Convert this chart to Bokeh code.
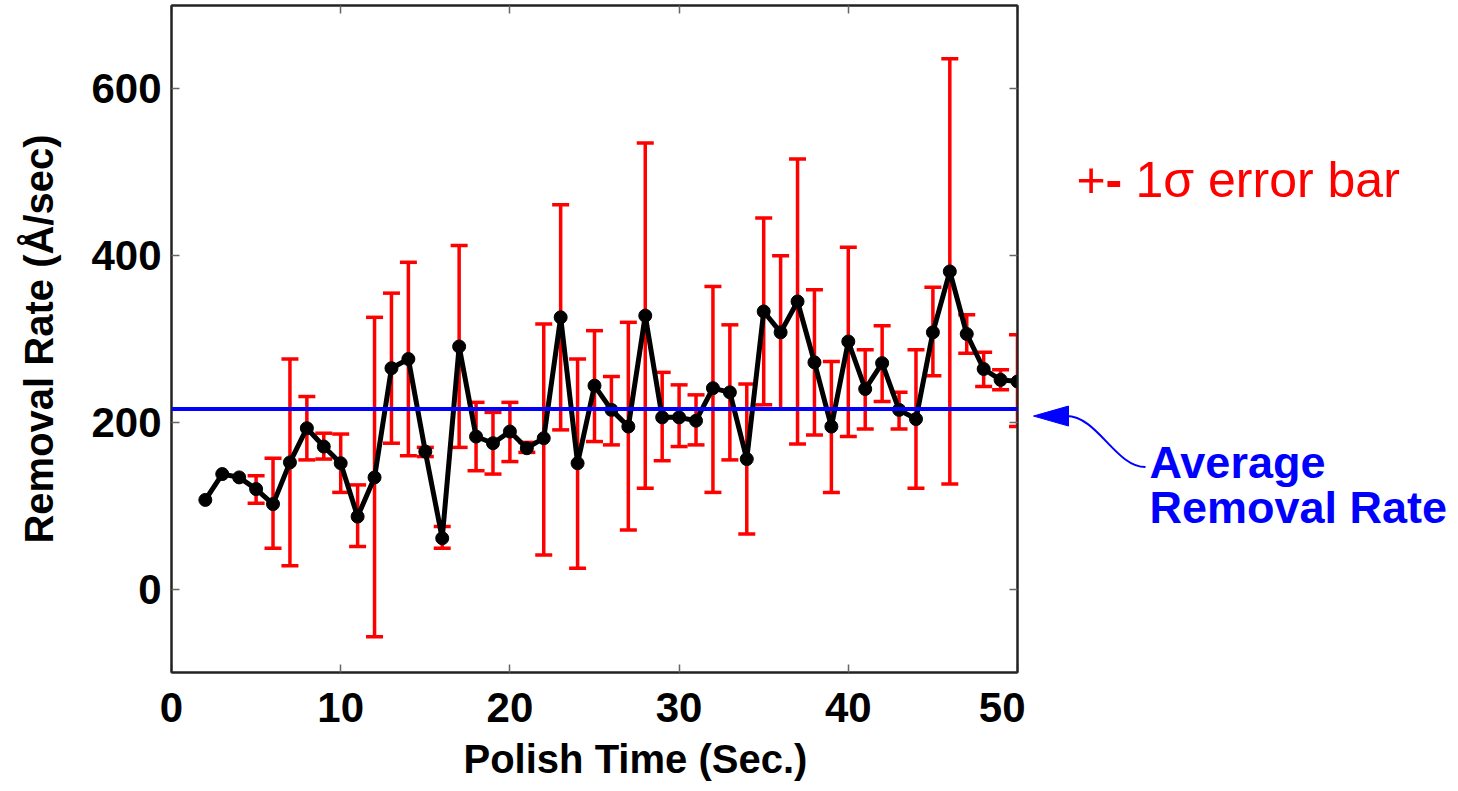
from bokeh.plotting import figure
from bokeh.models import (ColumnDataSource, Whisker, TeeHead, Span, Range1d, LinearAxis,
                          FixedTicker, Title)
from bokeh.layouts import row
from bokeh.core.properties import value
from bokeh.embed import file_html
from bokeh.resources import INLINE

# ---------------- data ----------------
time_s = list(range(2, 51))
removal_rate = [107, 138, 134, 120, 102, 152, 193, 171, 151, 87, 134, 265, 276, 165, 61,
                291, 183, 175, 189, 169, 181, 326, 151, 244, 215, 195, 328, 206, 206, 202,
                241, 236, 156, 333, 308, 345, 272, 195, 297, 240, 271, 215, 204, 308, 381,
                306, 264, 251, 249]
err_upper = [None, None, None, 136, 157, 276, 231, 187, 186, 125, 326, 355, 392, 170, 75,
             412, 224, 212, 224, 176, 318, 461, 276, 310, 255, 320, 535, 260, 245, 233,
             363, 317, 246, 445, 400, 516, 359, 273, 410, 287, 316, 236, 287, 362, 636,
             329, 284, 263, 305]
err_lower = [None, None, None, 103, 49, 28, 155, 156, 116, 51, -57, 175, 160, 159, 49,
             170, 142, 138, 153, 164, 41, 191, 25, 177, 173, 71, 121, 154, 171, 173,
             116, 155, 66, 221, 216, 174, 185, 116, 183, 192, 225, 192, 121, 256, 126,
             283, 243, 239, 195]
average_rate = 216
x_ticks = [0, 10, 20, 30, 40, 50]
y_ticks = [0, 200, 400, 600]

FONT = "Liberation Sans"
RED = "#ff0000"
BLUE = "#0000ff"

# ---------------- main plot ----------------
p = figure(width=1025, height=791, output_backend="svg", toolbar_location=None,
           x_range=Range1d(0, 50), y_range=Range1d(-100, 700),
           min_border_left=171, min_border_right=8, min_border_top=5, min_border_bottom=119)
p.background_fill_color = "white"
p.border_fill_color = "white"
p.outline_line_color = "#222222"
p.outline_line_width = 2
p.xgrid.visible = False
p.ygrid.visible = False

for ax in (p.xaxis[0], p.yaxis[0]):
    ax.major_tick_in = 8
    ax.major_tick_out = 0
    ax.minor_tick_in = 0
    ax.minor_tick_out = 0
    ax.major_tick_line_color = "#666666"
    ax.major_tick_line_width = 1.5
    ax.axis_line_color = "#222222"
    ax.axis_line_width = 2
    ax.major_label_text_font = FONT
    ax.major_label_text_font_style = "bold"
    ax.major_label_text_font_size = "42px"
    ax.major_label_text_color = "black"

p.xaxis[0].ticker = FixedTicker(ticks=x_ticks)
p.yaxis[0].ticker = FixedTicker(ticks=y_ticks)
p.xaxis[0].major_label_standoff = 20
p.yaxis[0].major_label_standoff = 10

p.yaxis[0].axis_label = "Removal Rate (Å/sec)"
p.yaxis[0].axis_label_text_font = FONT
p.yaxis[0].axis_label_text_font_style = "bold"
p.yaxis[0].axis_label_text_font_size = "40px"
p.yaxis[0].axis_label_standoff = 27
p.yaxis[0].axis_label_text_color = "black"

# mirror axes (ticks only) on top and right
for loc, tick in (("above", x_ticks), ("right", y_ticks)):
    a = LinearAxis(ticker=FixedTicker(ticks=tick), major_tick_in=8, major_tick_out=0,
                   minor_tick_in=0, minor_tick_out=0, major_tick_line_color="#666666",
                   major_tick_line_width=1.5, axis_line_color="#222222", axis_line_width=2,
                   major_label_text_font_size="0px", major_label_standoff=0,
                   major_label_text_alpha=0)
    p.add_layout(a, loc)

xtitle = Title(text="Polish Time (Sec.)", align="left", offset=292,
               text_font=FONT, text_font_style="bold", text_font_size="40px",
               text_color="black", standoff=20, vertical_align="bottom")
p.add_layout(xtitle, "below")

# error bars
eb_x = [t for t, u in zip(time_s, err_upper) if u is not None]
eb_up = [u for u in err_upper if u is not None]
eb_lo = [l for l in err_lower if l is not None]
eb_src = ColumnDataSource(dict(x=eb_x, upper=eb_up, lower=eb_lo))
whisk = Whisker(source=eb_src, base="x", upper="upper", lower="lower",
                line_color=RED, line_width=3.5,
                upper_head=TeeHead(size=17, line_color=RED, line_width=3.5),
                lower_head=TeeHead(size=17, line_color=RED, line_width=3.5))
p.add_layout(whisk)

# average line
p.add_layout(Span(location=average_rate, dimension="width", line_color=BLUE, line_width=4))

# data line + markers
src = ColumnDataSource(dict(x=time_s, y=removal_rate))
p.line("x", "y", source=src, line_color="black", line_width=5)
p.scatter("x", "y", source=src, size=13, fill_color="black", line_color="black")

# ---------------- annotation panel ----------------
p2 = figure(width=433, height=791, output_backend="svg", toolbar_location=None,
            x_range=Range1d(0, 433), y_range=p.y_range,
            min_border_left=0, min_border_right=0, min_border_top=5, min_border_bottom=119,
            x_axis_location=None, y_axis_location=None)
p2.outline_line_color = None
p2.xgrid.visible = False
p2.ygrid.visible = False
p2.background_fill_color = "white"
p2.border_fill_color = "white"


def yd(py):
    # screen pixel row -> data value of the shared y scale
    return (589 - py) * 1.2


p2.text(x=[51], y=[yd(180)], text=["+"], text_font=value(FONT), text_font_size=value("50px"),
        text_color=RED, text_baseline="alphabetic", text_align="left")
p2.text(x=[80], y=[yd(180)], text=["-"], text_font=value(FONT), text_font_size=value("50px"),
        text_font_style="bold", text_color=RED, text_baseline="alphabetic", text_align="left")
p2.text(x=[110], y=[yd(180)], text=["1σ error bar"], text_font=value(FONT),
        text_font_size=value("50px"), text_color=RED, text_baseline="alphabetic",
        text_align="left")

p2.text(x=[124, 124], y=[yd(462), yd(507)], text=["Average", "Removal Rate"],
        text_font=value(FONT), text_font_size=value("45px"), text_font_style="bold",
        text_color=BLUE, text_baseline="alphabetic", text_align="left")

p2.patch(x=[8, 43, 43], y=[yd(416), yd(406), yd(426)], fill_color=BLUE, line_color=BLUE)
p2.bezier(x0=[41], y0=[yd(416)], x1=[120], y1=[yd(467)],
          cx0=[72], cy0=[yd(416)], cx1=[90], cy1=[yd(467)],
          line_color=BLUE, line_width=2)

layout = row(p, p2)
open("out.html", "w").write(file_html(layout, INLINE))
